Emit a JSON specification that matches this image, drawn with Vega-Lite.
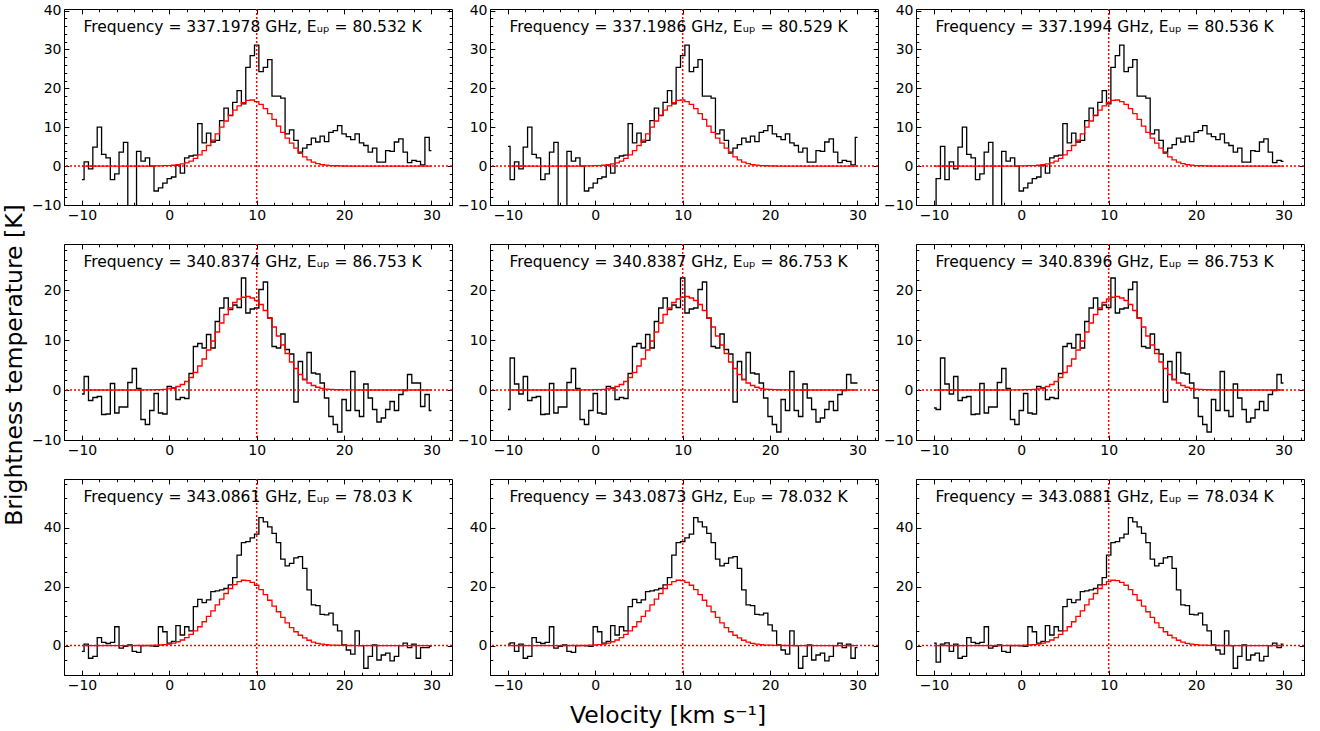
{
"$schema": "https://vega.github.io/schema/vega-lite/v6.json",
"padding": {"left": 3, "top": 3, "right": 5, "bottom": 5},
"background": "white",
"datasets": {
"r1": [
{"a":-11.5,"b":-11,"c":-10,"t":-13,"m":0},
{"a":-11,"b":-10.5,"c":-9.5,"t":-3.2,"m":0},
{"a":-10.5,"b":-10,"c":-9,"t":5.1,"m":0},
{"a":-10,"b":-9.5,"c":-8.5,"t":-3.5,"m":0},
{"a":-9.5,"b":-9,"c":-8,"t":1.1,"m":0},
{"a":-9,"b":-8.5,"c":-7.5,"t":-0.7,"m":0},
{"a":-8.5,"b":-8,"c":-7,"t":4.9,"m":0},
{"a":-8,"b":-7.5,"c":-6.5,"t":10,"m":0},
{"a":-7.5,"b":-7,"c":-6,"t":3,"m":0},
{"a":-7,"b":-6.5,"c":-5.5,"t":2.1,"m":0},
{"a":-6.5,"b":-6,"c":-5,"t":-3.5,"m":0},
{"a":-6,"b":-5.5,"c":-4.5,"t":-2,"m":0},
{"a":-5.5,"b":-5,"c":-4,"t":3.6,"m":0},
{"a":-5,"b":-4.5,"c":-3.5,"t":6.1,"m":0},
{"a":-4.5,"b":-4,"c":-3,"t":-13,"m":0},
{"a":-4,"b":-3.5,"c":-2.5,"t":-13,"m":0},
{"a":-3.5,"b":-3,"c":-2,"t":3.8,"m":0},
{"a":-3,"b":-2.5,"c":-1.5,"t":1.3,"m":0.01},
{"a":-2.5,"b":-2,"c":-1,"t":2.1,"m":0.01},
{"a":-2,"b":-1.5,"c":-0.5,"t":0,"m":0.02},
{"a":-1.5,"b":-1,"c":0,"t":-6.4,"m":0.04},
{"a":-1,"b":-0.5,"c":0.5,"t":-5.6,"m":0.06},
{"a":-0.5,"b":0,"c":1,"t":-4.4,"m":0.1},
{"a":0,"b":0.5,"c":1.5,"t":-3.2,"m":0.15},
{"a":0.5,"b":1,"c":2,"t":-2.8,"m":0.22},
{"a":1,"b":1.5,"c":2.5,"t":0.2,"m":0.35},
{"a":1.5,"b":2,"c":3,"t":-1.8,"m":0.55},
{"a":2,"b":2.5,"c":3.5,"t":2.1,"m":0.85},
{"a":2.5,"b":3,"c":4,"t":2.6,"m":1.3},
{"a":3,"b":3.5,"c":4.5,"t":2.8,"m":2},
{"a":3.5,"b":4,"c":5,"t":10.9,"m":2.9},
{"a":4,"b":4.5,"c":5.5,"t":6,"m":4},
{"a":4.5,"b":5,"c":6,"t":8.5,"m":5.3},
{"a":5,"b":5.5,"c":6.5,"t":6.2,"m":6.7},
{"a":5.5,"b":6,"c":7,"t":6.6,"m":8.3},
{"a":6,"b":6.5,"c":7.5,"t":11.7,"m":10},
{"a":6.5,"b":7,"c":8,"t":14.9,"m":11.6},
{"a":7,"b":7.5,"c":8.5,"t":13,"m":13.1},
{"a":7.5,"b":8,"c":9,"t":16.4,"m":14.4},
{"a":8,"b":8.5,"c":9.5,"t":19.4,"m":15.5},
{"a":8.5,"b":9,"c":10,"t":16,"m":16.3},
{"a":9,"b":9.5,"c":10.5,"t":25.4,"m":16.9},
{"a":9.5,"b":10,"c":11,"t":28.4,"m":17},
{"a":10,"b":10.5,"c":11.5,"t":31.1,"m":16.6},
{"a":10.5,"b":11,"c":12,"t":24.3,"m":15.9},
{"a":11,"b":11.5,"c":12.5,"t":25.4,"m":14.8},
{"a":11.5,"b":12,"c":13,"t":27.4,"m":13.5},
{"a":12,"b":12.5,"c":13.5,"t":18,"m":12},
{"a":12.5,"b":13,"c":14,"t":18,"m":10.3},
{"a":13,"b":13.5,"c":14.5,"t":17.5,"m":8.7},
{"a":13.5,"b":14,"c":15,"t":8.3,"m":7.2},
{"a":14,"b":14.5,"c":15.5,"t":9.3,"m":5.9},
{"a":14.5,"b":15,"c":16,"t":6.6,"m":4.6},
{"a":15,"b":15.5,"c":16.5,"t":3.6,"m":3.3},
{"a":15.5,"b":16,"c":17,"t":4.6,"m":2.4},
{"a":16,"b":16.5,"c":17.5,"t":5.5,"m":1.6},
{"a":16.5,"b":17,"c":18,"t":7.2,"m":1.05},
{"a":17,"b":17.5,"c":18.5,"t":6.2,"m":0.65},
{"a":17.5,"b":18,"c":19,"t":7.7,"m":0.4},
{"a":18,"b":18.5,"c":19.5,"t":6.3,"m":0.25},
{"a":18.5,"b":19,"c":20,"t":8.7,"m":0.15},
{"a":19,"b":19.5,"c":20.5,"t":9.1,"m":0.09},
{"a":19.5,"b":20,"c":21,"t":10.4,"m":0.05},
{"a":20,"b":20.5,"c":21.5,"t":8.3,"m":0.03},
{"a":20.5,"b":21,"c":22,"t":7.6,"m":0.01},
{"a":21,"b":21.5,"c":22.5,"t":6.8,"m":0},
{"a":21.5,"b":22,"c":23,"t":8.3,"m":0},
{"a":22,"b":22.5,"c":23.5,"t":6,"m":0},
{"a":22.5,"b":23,"c":24,"t":5.3,"m":0},
{"a":23,"b":23.5,"c":24.5,"t":3.6,"m":0},
{"a":23.5,"b":24,"c":25,"t":4.6,"m":0},
{"a":24,"b":24.5,"c":25.5,"t":1,"m":0},
{"a":24.5,"b":25,"c":26,"t":1,"m":0},
{"a":25,"b":25.5,"c":26.5,"t":4,"m":0},
{"a":25.5,"b":26,"c":27,"t":3.8,"m":0},
{"a":26,"b":26.5,"c":27.5,"t":6.2,"m":0},
{"a":26.5,"b":27,"c":28,"t":7,"m":0},
{"a":27,"b":27.5,"c":28.5,"t":3.6,"m":0},
{"a":27.5,"b":28,"c":29,"t":0.9,"m":0},
{"a":28,"b":28.5,"c":29.5,"t":1.5,"m":0},
{"a":28.5,"b":29,"c":30,"t":1.2,"m":0},
{"a":29,"b":29.5,"c":30.5,"t":0.3,"m":0},
{"a":29.5,"b":30,"c":31,"t":7.4,"m":0},
{"a":30,"b":30.5,"c":31.5,"t":4,"m":0}
],
"r2": [
{"a":-12,"b":-10.5,"c":-10,"t":-3.6,"m":0},
{"a":-11.5,"b":-10,"c":-9.5,"t":-3.9,"m":0},
{"a":-11,"b":-9.5,"c":-9,"t":6.4,"m":0},
{"a":-10.5,"b":-9,"c":-8.5,"t":1.2,"m":0},
{"a":-10,"b":-8.5,"c":-8,"t":-0.8,"m":0},
{"a":-9.5,"b":-8,"c":-7.5,"t":2.7,"m":0},
{"a":-9,"b":-7.5,"c":-7,"t":-2.1,"m":0},
{"a":-8.5,"b":-7,"c":-6.5,"t":-1.5,"m":0},
{"a":-8,"b":-6.5,"c":-6,"t":-1.3,"m":0},
{"a":-7.5,"b":-6,"c":-5.5,"t":-4.9,"m":0},
{"a":-7,"b":-5.5,"c":-5,"t":-4.8,"m":0},
{"a":-6.5,"b":-5,"c":-4.5,"t":1.3,"m":0},
{"a":-6,"b":-4.5,"c":-4,"t":-4.6,"m":0},
{"a":-5.5,"b":-4,"c":-3.5,"t":-3.4,"m":0},
{"a":-5,"b":-3.5,"c":-3,"t":-3.4,"m":0},
{"a":-4.5,"b":-3,"c":-2.5,"t":1.5,"m":0},
{"a":-4,"b":-2.5,"c":-2,"t":4.3,"m":0},
{"a":-3.5,"b":-2,"c":-1.5,"t":0.3,"m":0},
{"a":-3,"b":-1.5,"c":-1,"t":-5.9,"m":0.01},
{"a":-2.5,"b":-1,"c":-0.5,"t":-6.9,"m":0.02},
{"a":-2,"b":-0.5,"c":0,"t":-4.1,"m":0.04},
{"a":-1.5,"b":0,"c":0.5,"t":-0.7,"m":0.06},
{"a":-1,"b":0.5,"c":1,"t":-4.6,"m":0.09},
{"a":-0.5,"b":1,"c":1.5,"t":-4.8,"m":0.14},
{"a":0,"b":1.5,"c":2,"t":0.7,"m":0.23},
{"a":0.5,"b":2,"c":2.5,"t":0.4,"m":0.4},
{"a":1,"b":2.5,"c":3,"t":-1.9,"m":0.7},
{"a":1.5,"b":3,"c":3.5,"t":-1.5,"m":1.1},
{"a":2,"b":3.5,"c":4,"t":-1.7,"m":1.7},
{"a":2.5,"b":4,"c":4.5,"t":3.3,"m":2.5},
{"a":3,"b":4.5,"c":5,"t":8.7,"m":3.5},
{"a":3.5,"b":5,"c":5.5,"t":9.3,"m":4.8},
{"a":4,"b":5.5,"c":6,"t":8.4,"m":6.2},
{"a":4.5,"b":6,"c":6.5,"t":11.1,"m":8},
{"a":5,"b":6.5,"c":7,"t":8.4,"m":9.8},
{"a":5.5,"b":7,"c":7.5,"t":13.7,"m":11.6},
{"a":6,"b":7.5,"c":8,"t":16.4,"m":13.4},
{"a":6.5,"b":8,"c":8.5,"t":18.4,"m":15.1},
{"a":7,"b":8.5,"c":9,"t":16.1,"m":16.4},
{"a":7.5,"b":9,"c":9.5,"t":17,"m":17.5},
{"a":8,"b":9.5,"c":10,"t":16.5,"m":18.2},
{"a":8.5,"b":10,"c":10.5,"t":22.4,"m":18.55},
{"a":9,"b":10.5,"c":11,"t":15.4,"m":18.7},
{"a":9.5,"b":11,"c":11.5,"t":16.2,"m":18.4},
{"a":10,"b":11.5,"c":12,"t":16.4,"m":17.9},
{"a":10.5,"b":12,"c":12.5,"t":20.1,"m":17.1},
{"a":11,"b":12.5,"c":13,"t":21.6,"m":15.9},
{"a":11.5,"b":13,"c":13.5,"t":14.4,"m":14.4},
{"a":12,"b":13.5,"c":14,"t":8.7,"m":12.6},
{"a":12.5,"b":14,"c":14.5,"t":8.4,"m":10.8},
{"a":13,"b":14.5,"c":15,"t":11.2,"m":9},
{"a":13.5,"b":15,"c":15.5,"t":8.1,"m":7.3},
{"a":14,"b":15.5,"c":16,"t":7.2,"m":5.6},
{"a":14.5,"b":16,"c":16.5,"t":-2.4,"m":4.3},
{"a":15,"b":16.5,"c":17,"t":5.7,"m":3.1},
{"a":15.5,"b":17,"c":17.5,"t":2.1,"m":2.1},
{"a":16,"b":17.5,"c":18,"t":7.5,"m":1.4},
{"a":16.5,"b":18,"c":18.5,"t":3.4,"m":0.9},
{"a":17,"b":18.5,"c":19,"t":3.2,"m":0.55},
{"a":17.5,"b":19,"c":19.5,"t":1.4,"m":0.32},
{"a":18,"b":19.5,"c":20,"t":-1.6,"m":0.19},
{"a":18.5,"b":20,"c":20.5,"t":-5.3,"m":0.12},
{"a":19,"b":20.5,"c":21,"t":-6.9,"m":0.07},
{"a":19.5,"b":21,"c":21.5,"t":-8.4,"m":0.05},
{"a":20,"b":21.5,"c":22,"t":-1.9,"m":0.03},
{"a":20.5,"b":22,"c":22.5,"t":-4.1,"m":0.02},
{"a":21,"b":22.5,"c":23,"t":3.7,"m":0.01},
{"a":21.5,"b":23,"c":23.5,"t":-4.1,"m":0},
{"a":22,"b":23.5,"c":24,"t":-5.3,"m":0},
{"a":22.5,"b":24,"c":24.5,"t":1.2,"m":0},
{"a":23,"b":24.5,"c":25,"t":-1.6,"m":0},
{"a":23.5,"b":25,"c":25.5,"t":-3.9,"m":0},
{"a":24,"b":25.5,"c":26,"t":-6.4,"m":0},
{"a":24.5,"b":26,"c":26.5,"t":-5.6,"m":0},
{"a":25,"b":26.5,"c":27,"t":-3.9,"m":0},
{"a":25.5,"b":27,"c":27.5,"t":-2.3,"m":0},
{"a":26,"b":27.5,"c":28,"t":-4.1,"m":0},
{"a":26.5,"b":28,"c":28.5,"t":-0.9,"m":0},
{"a":27,"b":28.5,"c":29,"t":-0.1,"m":0},
{"a":27.5,"b":29,"c":29.5,"t":3.1,"m":0},
{"a":28,"b":29.5,"c":30,"t":1.4,"m":0},
{"a":28.5,"b":30,"c":30.5,"t":1.4,"m":0},
{"a":29,"b":30.5,"c":31,"t":-3.3,"m":0},
{"a":29.5,"b":31,"c":31.5,"t":-0.9,"m":0},
{"a":30,"b":31.5,"c":32,"t":-4.1,"m":0}
],
"r3": [
{"a":-12,"b":-11,"c":-10,"t":0.8,"m":0},
{"a":-11.5,"b":-10.5,"c":-9.5,"t":-5.6,"m":0},
{"a":-11,"b":-10,"c":-9,"t":0.5,"m":0},
{"a":-10.5,"b":-9.5,"c":-8.5,"t":0.9,"m":0},
{"a":-10,"b":-9,"c":-8,"t":-2,"m":0},
{"a":-9.5,"b":-8.5,"c":-7.5,"t":0.5,"m":0},
{"a":-9,"b":-8,"c":-7,"t":-4.3,"m":0},
{"a":-8.5,"b":-7.5,"c":-6.5,"t":-3.7,"m":0},
{"a":-8,"b":-7,"c":-6,"t":2.7,"m":0},
{"a":-7.5,"b":-6.5,"c":-5.5,"t":1.1,"m":0},
{"a":-7,"b":-6,"c":-5,"t":0.7,"m":0},
{"a":-6.5,"b":-5.5,"c":-4.5,"t":1.1,"m":0},
{"a":-6,"b":-5,"c":-4,"t":6.4,"m":0},
{"a":-5.5,"b":-4.5,"c":-3.5,"t":-0.9,"m":0},
{"a":-5,"b":-4,"c":-3,"t":-0.3,"m":0},
{"a":-4.5,"b":-3.5,"c":-2.5,"t":0.2,"m":0},
{"a":-4,"b":-3,"c":-2,"t":-2,"m":0.01},
{"a":-3.5,"b":-2.5,"c":-1.5,"t":-2.3,"m":0.02},
{"a":-3,"b":-2,"c":-1,"t":0,"m":0.03},
{"a":-2.5,"b":-1.5,"c":-0.5,"t":0,"m":0.05},
{"a":-2,"b":-1,"c":0,"t":-0.1,"m":0.08},
{"a":-1.5,"b":-0.5,"c":0.5,"t":-0.3,"m":0.13},
{"a":-1,"b":0,"c":1,"t":6.4,"m":0.2},
{"a":-0.5,"b":0.5,"c":1.5,"t":4.7,"m":0.34},
{"a":0,"b":1,"c":2,"t":0.8,"m":0.5},
{"a":0.5,"b":1.5,"c":2.5,"t":1.4,"m":0.85},
{"a":1,"b":2,"c":3,"t":6.8,"m":1.3},
{"a":1.5,"b":2.5,"c":3.5,"t":3.6,"m":1.9},
{"a":2,"b":3,"c":4,"t":6.4,"m":2.7},
{"a":2.5,"b":3.5,"c":4.5,"t":5,"m":3.8},
{"a":3,"b":4,"c":5,"t":13.2,"m":5},
{"a":3.5,"b":4.5,"c":5.5,"t":15.7,"m":6.4},
{"a":4,"b":5,"c":6,"t":14.6,"m":8.1},
{"a":4.5,"b":5.5,"c":6.5,"t":15.5,"m":9.9},
{"a":5,"b":6,"c":7,"t":18.3,"m":11.8},
{"a":5.5,"b":6.5,"c":7.5,"t":18.6,"m":13.8},
{"a":6,"b":7,"c":8,"t":18.9,"m":15.8},
{"a":6.5,"b":7.5,"c":8.5,"t":19.4,"m":17.7},
{"a":7,"b":8,"c":9,"t":20.6,"m":19.4},
{"a":7.5,"b":8.5,"c":9.5,"t":23.1,"m":20.7},
{"a":8,"b":9,"c":10,"t":30.7,"m":21.7},
{"a":8.5,"b":9.5,"c":10.5,"t":35,"m":22.2},
{"a":9,"b":10,"c":11,"t":35.3,"m":22.1},
{"a":9.5,"b":10.5,"c":11.5,"t":36.6,"m":21.5},
{"a":10,"b":11,"c":12,"t":37.9,"m":20.5},
{"a":10.5,"b":11.5,"c":12.5,"t":43.5,"m":19},
{"a":11,"b":12,"c":13,"t":42,"m":17.3},
{"a":11.5,"b":12.5,"c":13.5,"t":40.3,"m":15.4},
{"a":12,"b":13,"c":14,"t":38.1,"m":13.4},
{"a":12.5,"b":13.5,"c":14.5,"t":35,"m":11.5},
{"a":13,"b":14,"c":15,"t":29.4,"m":9.6},
{"a":13.5,"b":14.5,"c":15.5,"t":27.1,"m":7.7},
{"a":14,"b":15,"c":16,"t":27.9,"m":6.1},
{"a":14.5,"b":15.5,"c":16.5,"t":29.8,"m":4.7},
{"a":15,"b":16,"c":17,"t":30.2,"m":3.5},
{"a":15.5,"b":16.5,"c":17.5,"t":26.2,"m":2.6},
{"a":16,"b":17,"c":18,"t":18.9,"m":1.8},
{"a":16.5,"b":17.5,"c":18.5,"t":13.8,"m":1.2},
{"a":17,"b":18,"c":19,"t":13.6,"m":0.75},
{"a":17.5,"b":18.5,"c":19.5,"t":10.6,"m":0.48},
{"a":18,"b":19,"c":20,"t":10.4,"m":0.31},
{"a":18.5,"b":19.5,"c":20.5,"t":11,"m":0.18},
{"a":19,"b":20,"c":21,"t":7,"m":0.12},
{"a":19.5,"b":20.5,"c":21.5,"t":5,"m":0.07},
{"a":20,"b":21,"c":22,"t":0.2,"m":0.04},
{"a":20.5,"b":21.5,"c":22.5,"t":-1.5,"m":0.03},
{"a":21,"b":22,"c":23,"t":-2.9,"m":0.02},
{"a":21.5,"b":22.5,"c":23.5,"t":5,"m":0.01},
{"a":22,"b":23,"c":24,"t":0,"m":0},
{"a":22.5,"b":23.5,"c":24.5,"t":-7.7,"m":0},
{"a":23,"b":24,"c":25,"t":-3.7,"m":0},
{"a":23.5,"b":24.5,"c":25.5,"t":0.2,"m":0},
{"a":24,"b":25,"c":26,"t":-4.9,"m":0},
{"a":24.5,"b":25.5,"c":26.5,"t":-3.2,"m":0},
{"a":25,"b":26,"c":27,"t":-2.6,"m":0},
{"a":25.5,"b":26.5,"c":27.5,"t":-5.2,"m":0},
{"a":26,"b":27,"c":28,"t":-3.7,"m":0},
{"a":26.5,"b":27.5,"c":28.5,"t":0,"m":0},
{"a":27,"b":28,"c":29,"t":0.8,"m":0},
{"a":27.5,"b":28.5,"c":29.5,"t":-0.7,"m":0},
{"a":28,"b":29,"c":30,"t":0.5,"m":0},
{"a":28.5,"b":29.5,"c":30.5,"t":-4.3,"m":0},
{"a":29,"b":30,"c":31,"t":-0.7,"m":0},
{"a":29.5,"b":30.5,"c":31.5,"t":-0.7,"m":0},
{"a":30,"b":31,"c":32,"t":-0.3,"m":0}
]
},
"title": {"text": "Brightness temperature [K]", "orient": "left", "anchor": "middle", "offset": 4},
"vconcat": [
{
"title": {"text": "Velocity [km s⁻¹]", "orient": "bottom", "anchor": "middle", "offset": 11},
"columns": 3,
"spacing": {"row": 39, "column": 38},
"bounds": "flush",
"concat": [
{"width": 388, "height": 196, "resolve": {"axis": {"x": "independent", "y": "independent"}}, "layer": [
{"data": {"name": "r1"}, "transform": [{"filter": "datum.a >= -10 && datum.a <= 30"}], "mark": {"type": "line", "interpolate": "step", "color": "black", "strokeWidth": 1.3, "clip": true}, "encoding": {"x": {"field": "a", "type": "quantitative", "scale": {"domain": [-12.05, 32.35], "nice": false, "zero": false}, "axis": {"orient": "bottom", "values": [-10,0,10,20,30], "ticks": false, "tickSize": 0, "labelPadding": 3, "title": null}}, "y": {"field": "t", "type": "quantitative", "scale": {"domain": [-10, 40.4], "nice": false, "zero": false}, "axis": {"orient": "left", "values": [-10,0,10,20,30,40], "ticks": false, "tickSize": 0, "labelPadding": 3, "title": null}}}},
{"data": {"name": "r1"}, "transform": [{"filter": "datum.a >= -10 && datum.a <= 30"}], "mark": {"type": "line", "interpolate": "step", "color": "#ff0000", "strokeWidth": 1.3, "clip": true}, "encoding": {"x": {"field": "a", "type": "quantitative", "scale": {"domain": [-12.05, 32.35], "nice": false, "zero": false}, "axis": {"orient": "bottom", "values": [-10,0,10,20,30], "labels": false, "tickSize": -4.9, "title": null}}, "y": {"field": "m", "type": "quantitative", "scale": {"domain": [-10, 40.4], "nice": false, "zero": false}, "axis": {"orient": "left", "values": [-10,0,10,20,30,40], "labels": false, "tickSize": -4.9, "title": null}}}},
{"data": {"values": [{}]}, "mark": {"type": "rule", "color": "#ff0000", "strokeDash": [2,2], "strokeWidth": 1.5}, "encoding": {"y": {"datum": 0, "type": "quantitative", "scale": {"domain": [-10, 40.4], "nice": false, "zero": false}, "axis": {"orient": "left", "values": [-10,-8,-6,-4,-2,0,2,4,6,8,10,12,14,16,18,20,22,24,26,28,30,32,34,36,38,40], "labels": false, "tickSize": -2.8, "title": null}}}},
{"data": {"values": [{}]}, "mark": {"type": "rule", "color": "#ff0000", "strokeDash": [2,2], "strokeWidth": 1.5}, "encoding": {"x": {"datum": 10, "type": "quantitative", "scale": {"domain": [-12.05, 32.35], "nice": false, "zero": false}, "axis": {"orient": "bottom", "values": [-12,-10,-8,-6,-4,-2,0,2,4,6,8,10,12,14,16,18,20,22,24,26,28,30,32], "labels": false, "tickSize": -2.8, "title": null}}}},
{"data": {"values": [{}]}, "mark": {"type": "text", "align": "left", "baseline": "alphabetic", "font": "DejaVu Sans", "fontSize": 15.5, "color": "black"}, "encoding": {"x": {"datum": -9.83, "type": "quantitative", "scale": {"domain": [-12.05, 32.35], "nice": false, "zero": false}, "axis": {"orient": "top", "values": [-10,0,10,20,30], "labels": false, "tickSize": -4.9, "title": null}}, "y": {"datum": 34.5, "type": "quantitative", "scale": {"domain": [-10, 40.4], "nice": false, "zero": false}, "axis": {"orient": "right", "values": [-10,0,10,20,30,40], "labels": false, "tickSize": -4.9, "title": null}}, "text": {"value": "Frequency = 337.1978 GHz, Eᵤₚ = 80.532 K"}}},
{"data": {"values": [{}]}, "mark": {"type": "point", "opacity": 0}, "encoding": {"x": {"datum": 0, "type": "quantitative", "scale": {"domain": [-12.05, 32.35], "nice": false, "zero": false}, "axis": {"orient": "top", "values": [-12,-10,-8,-6,-4,-2,0,2,4,6,8,10,12,14,16,18,20,22,24,26,28,30,32], "labels": false, "tickSize": -2.8, "title": null}}, "y": {"datum": 0, "type": "quantitative", "scale": {"domain": [-10, 40.4], "nice": false, "zero": false}, "axis": {"orient": "right", "values": [-10,-8,-6,-4,-2,0,2,4,6,8,10,12,14,16,18,20,22,24,26,28,30,32,34,36,38,40], "labels": false, "tickSize": -2.8, "title": null}}}}
]},
{"width": 388, "height": 196, "resolve": {"axis": {"x": "independent", "y": "independent"}}, "layer": [
{"data": {"name": "r1"}, "transform": [{"filter": "datum.b >= -10 && datum.b <= 30"}], "mark": {"type": "line", "interpolate": "step", "color": "black", "strokeWidth": 1.3, "clip": true}, "encoding": {"x": {"field": "b", "type": "quantitative", "scale": {"domain": [-12.05, 32.35], "nice": false, "zero": false}, "axis": {"orient": "bottom", "values": [-10,0,10,20,30], "ticks": false, "tickSize": 0, "labelPadding": 3, "title": null}}, "y": {"field": "t", "type": "quantitative", "scale": {"domain": [-10, 40.4], "nice": false, "zero": false}, "axis": {"orient": "left", "values": [-10,0,10,20,30,40], "ticks": false, "tickSize": 0, "labelPadding": 3, "title": null}}}},
{"data": {"name": "r1"}, "transform": [{"filter": "datum.b >= -10 && datum.b <= 30"}], "mark": {"type": "line", "interpolate": "step", "color": "#ff0000", "strokeWidth": 1.3, "clip": true}, "encoding": {"x": {"field": "b", "type": "quantitative", "scale": {"domain": [-12.05, 32.35], "nice": false, "zero": false}, "axis": {"orient": "bottom", "values": [-10,0,10,20,30], "labels": false, "tickSize": -4.9, "title": null}}, "y": {"field": "m", "type": "quantitative", "scale": {"domain": [-10, 40.4], "nice": false, "zero": false}, "axis": {"orient": "left", "values": [-10,0,10,20,30,40], "labels": false, "tickSize": -4.9, "title": null}}}},
{"data": {"values": [{}]}, "mark": {"type": "rule", "color": "#ff0000", "strokeDash": [2,2], "strokeWidth": 1.5}, "encoding": {"y": {"datum": 0, "type": "quantitative", "scale": {"domain": [-10, 40.4], "nice": false, "zero": false}, "axis": {"orient": "left", "values": [-10,-8,-6,-4,-2,0,2,4,6,8,10,12,14,16,18,20,22,24,26,28,30,32,34,36,38,40], "labels": false, "tickSize": -2.8, "title": null}}}},
{"data": {"values": [{}]}, "mark": {"type": "rule", "color": "#ff0000", "strokeDash": [2,2], "strokeWidth": 1.5}, "encoding": {"x": {"datum": 10, "type": "quantitative", "scale": {"domain": [-12.05, 32.35], "nice": false, "zero": false}, "axis": {"orient": "bottom", "values": [-12,-10,-8,-6,-4,-2,0,2,4,6,8,10,12,14,16,18,20,22,24,26,28,30,32], "labels": false, "tickSize": -2.8, "title": null}}}},
{"data": {"values": [{}]}, "mark": {"type": "text", "align": "left", "baseline": "alphabetic", "font": "DejaVu Sans", "fontSize": 15.5, "color": "black"}, "encoding": {"x": {"datum": -9.83, "type": "quantitative", "scale": {"domain": [-12.05, 32.35], "nice": false, "zero": false}, "axis": {"orient": "top", "values": [-10,0,10,20,30], "labels": false, "tickSize": -4.9, "title": null}}, "y": {"datum": 34.5, "type": "quantitative", "scale": {"domain": [-10, 40.4], "nice": false, "zero": false}, "axis": {"orient": "right", "values": [-10,0,10,20,30,40], "labels": false, "tickSize": -4.9, "title": null}}, "text": {"value": "Frequency = 337.1986 GHz, Eᵤₚ = 80.529 K"}}},
{"data": {"values": [{}]}, "mark": {"type": "point", "opacity": 0}, "encoding": {"x": {"datum": 0, "type": "quantitative", "scale": {"domain": [-12.05, 32.35], "nice": false, "zero": false}, "axis": {"orient": "top", "values": [-12,-10,-8,-6,-4,-2,0,2,4,6,8,10,12,14,16,18,20,22,24,26,28,30,32], "labels": false, "tickSize": -2.8, "title": null}}, "y": {"datum": 0, "type": "quantitative", "scale": {"domain": [-10, 40.4], "nice": false, "zero": false}, "axis": {"orient": "right", "values": [-10,-8,-6,-4,-2,0,2,4,6,8,10,12,14,16,18,20,22,24,26,28,30,32,34,36,38,40], "labels": false, "tickSize": -2.8, "title": null}}}}
]},
{"width": 388, "height": 196, "resolve": {"axis": {"x": "independent", "y": "independent"}}, "layer": [
{"data": {"name": "r1"}, "transform": [{"filter": "datum.c >= -10 && datum.c <= 30"}], "mark": {"type": "line", "interpolate": "step", "color": "black", "strokeWidth": 1.3, "clip": true}, "encoding": {"x": {"field": "c", "type": "quantitative", "scale": {"domain": [-12.05, 32.35], "nice": false, "zero": false}, "axis": {"orient": "bottom", "values": [-10,0,10,20,30], "ticks": false, "tickSize": 0, "labelPadding": 3, "title": null}}, "y": {"field": "t", "type": "quantitative", "scale": {"domain": [-10, 40.4], "nice": false, "zero": false}, "axis": {"orient": "left", "values": [-10,0,10,20,30,40], "ticks": false, "tickSize": 0, "labelPadding": 3, "title": null}}}},
{"data": {"name": "r1"}, "transform": [{"filter": "datum.c >= -10 && datum.c <= 30"}], "mark": {"type": "line", "interpolate": "step", "color": "#ff0000", "strokeWidth": 1.3, "clip": true}, "encoding": {"x": {"field": "c", "type": "quantitative", "scale": {"domain": [-12.05, 32.35], "nice": false, "zero": false}, "axis": {"orient": "bottom", "values": [-10,0,10,20,30], "labels": false, "tickSize": -4.9, "title": null}}, "y": {"field": "m", "type": "quantitative", "scale": {"domain": [-10, 40.4], "nice": false, "zero": false}, "axis": {"orient": "left", "values": [-10,0,10,20,30,40], "labels": false, "tickSize": -4.9, "title": null}}}},
{"data": {"values": [{}]}, "mark": {"type": "rule", "color": "#ff0000", "strokeDash": [2,2], "strokeWidth": 1.5}, "encoding": {"y": {"datum": 0, "type": "quantitative", "scale": {"domain": [-10, 40.4], "nice": false, "zero": false}, "axis": {"orient": "left", "values": [-10,-8,-6,-4,-2,0,2,4,6,8,10,12,14,16,18,20,22,24,26,28,30,32,34,36,38,40], "labels": false, "tickSize": -2.8, "title": null}}}},
{"data": {"values": [{}]}, "mark": {"type": "rule", "color": "#ff0000", "strokeDash": [2,2], "strokeWidth": 1.5}, "encoding": {"x": {"datum": 10, "type": "quantitative", "scale": {"domain": [-12.05, 32.35], "nice": false, "zero": false}, "axis": {"orient": "bottom", "values": [-12,-10,-8,-6,-4,-2,0,2,4,6,8,10,12,14,16,18,20,22,24,26,28,30,32], "labels": false, "tickSize": -2.8, "title": null}}}},
{"data": {"values": [{}]}, "mark": {"type": "text", "align": "left", "baseline": "alphabetic", "font": "DejaVu Sans", "fontSize": 15.5, "color": "black"}, "encoding": {"x": {"datum": -9.83, "type": "quantitative", "scale": {"domain": [-12.05, 32.35], "nice": false, "zero": false}, "axis": {"orient": "top", "values": [-10,0,10,20,30], "labels": false, "tickSize": -4.9, "title": null}}, "y": {"datum": 34.5, "type": "quantitative", "scale": {"domain": [-10, 40.4], "nice": false, "zero": false}, "axis": {"orient": "right", "values": [-10,0,10,20,30,40], "labels": false, "tickSize": -4.9, "title": null}}, "text": {"value": "Frequency = 337.1994 GHz, Eᵤₚ = 80.536 K"}}},
{"data": {"values": [{}]}, "mark": {"type": "point", "opacity": 0}, "encoding": {"x": {"datum": 0, "type": "quantitative", "scale": {"domain": [-12.05, 32.35], "nice": false, "zero": false}, "axis": {"orient": "top", "values": [-12,-10,-8,-6,-4,-2,0,2,4,6,8,10,12,14,16,18,20,22,24,26,28,30,32], "labels": false, "tickSize": -2.8, "title": null}}, "y": {"datum": 0, "type": "quantitative", "scale": {"domain": [-10, 40.4], "nice": false, "zero": false}, "axis": {"orient": "right", "values": [-10,-8,-6,-4,-2,0,2,4,6,8,10,12,14,16,18,20,22,24,26,28,30,32,34,36,38,40], "labels": false, "tickSize": -2.8, "title": null}}}}
]},
{"width": 388, "height": 196, "resolve": {"axis": {"x": "independent", "y": "independent"}}, "layer": [
{"data": {"name": "r2"}, "transform": [{"filter": "datum.a >= -10 && datum.a <= 30"}], "mark": {"type": "line", "interpolate": "step", "color": "black", "strokeWidth": 1.3, "clip": true}, "encoding": {"x": {"field": "a", "type": "quantitative", "scale": {"domain": [-12.05, 32.35], "nice": false, "zero": false}, "axis": {"orient": "bottom", "values": [-10,0,10,20,30], "ticks": false, "tickSize": 0, "labelPadding": 3, "title": null}}, "y": {"field": "t", "type": "quantitative", "scale": {"domain": [-10, 29.2], "nice": false, "zero": false}, "axis": {"orient": "left", "values": [-10,0,10,20], "ticks": false, "tickSize": 0, "labelPadding": 3, "title": null}}}},
{"data": {"name": "r2"}, "transform": [{"filter": "datum.a >= -10 && datum.a <= 30"}], "mark": {"type": "line", "interpolate": "step", "color": "#ff0000", "strokeWidth": 1.3, "clip": true}, "encoding": {"x": {"field": "a", "type": "quantitative", "scale": {"domain": [-12.05, 32.35], "nice": false, "zero": false}, "axis": {"orient": "bottom", "values": [-10,0,10,20,30], "labels": false, "tickSize": -4.9, "title": null}}, "y": {"field": "m", "type": "quantitative", "scale": {"domain": [-10, 29.2], "nice": false, "zero": false}, "axis": {"orient": "left", "values": [-10,0,10,20], "labels": false, "tickSize": -4.9, "title": null}}}},
{"data": {"values": [{}]}, "mark": {"type": "rule", "color": "#ff0000", "strokeDash": [2,2], "strokeWidth": 1.5}, "encoding": {"y": {"datum": 0, "type": "quantitative", "scale": {"domain": [-10, 29.2], "nice": false, "zero": false}, "axis": {"orient": "left", "values": [-10,-8,-6,-4,-2,0,2,4,6,8,10,12,14,16,18,20,22,24,26,28], "labels": false, "tickSize": -2.8, "title": null}}}},
{"data": {"values": [{}]}, "mark": {"type": "rule", "color": "#ff0000", "strokeDash": [2,2], "strokeWidth": 1.5}, "encoding": {"x": {"datum": 10, "type": "quantitative", "scale": {"domain": [-12.05, 32.35], "nice": false, "zero": false}, "axis": {"orient": "bottom", "values": [-12,-10,-8,-6,-4,-2,0,2,4,6,8,10,12,14,16,18,20,22,24,26,28,30,32], "labels": false, "tickSize": -2.8, "title": null}}}},
{"data": {"values": [{}]}, "mark": {"type": "text", "align": "left", "baseline": "alphabetic", "font": "DejaVu Sans", "fontSize": 15.5, "color": "black"}, "encoding": {"x": {"datum": -9.83, "type": "quantitative", "scale": {"domain": [-12.05, 32.35], "nice": false, "zero": false}, "axis": {"orient": "top", "values": [-10,0,10,20,30], "labels": false, "tickSize": -4.9, "title": null}}, "y": {"datum": 24.6, "type": "quantitative", "scale": {"domain": [-10, 29.2], "nice": false, "zero": false}, "axis": {"orient": "right", "values": [-10,0,10,20], "labels": false, "tickSize": -4.9, "title": null}}, "text": {"value": "Frequency = 340.8374 GHz, Eᵤₚ = 86.753 K"}}},
{"data": {"values": [{}]}, "mark": {"type": "point", "opacity": 0}, "encoding": {"x": {"datum": 0, "type": "quantitative", "scale": {"domain": [-12.05, 32.35], "nice": false, "zero": false}, "axis": {"orient": "top", "values": [-12,-10,-8,-6,-4,-2,0,2,4,6,8,10,12,14,16,18,20,22,24,26,28,30,32], "labels": false, "tickSize": -2.8, "title": null}}, "y": {"datum": 0, "type": "quantitative", "scale": {"domain": [-10, 29.2], "nice": false, "zero": false}, "axis": {"orient": "right", "values": [-10,-8,-6,-4,-2,0,2,4,6,8,10,12,14,16,18,20,22,24,26,28], "labels": false, "tickSize": -2.8, "title": null}}}}
]},
{"width": 388, "height": 196, "resolve": {"axis": {"x": "independent", "y": "independent"}}, "layer": [
{"data": {"name": "r2"}, "transform": [{"filter": "datum.b >= -10 && datum.b <= 30"}], "mark": {"type": "line", "interpolate": "step", "color": "black", "strokeWidth": 1.3, "clip": true}, "encoding": {"x": {"field": "b", "type": "quantitative", "scale": {"domain": [-12.05, 32.35], "nice": false, "zero": false}, "axis": {"orient": "bottom", "values": [-10,0,10,20,30], "ticks": false, "tickSize": 0, "labelPadding": 3, "title": null}}, "y": {"field": "t", "type": "quantitative", "scale": {"domain": [-10, 29.2], "nice": false, "zero": false}, "axis": {"orient": "left", "values": [-10,0,10,20], "ticks": false, "tickSize": 0, "labelPadding": 3, "title": null}}}},
{"data": {"name": "r2"}, "transform": [{"filter": "datum.b >= -10 && datum.b <= 30"}], "mark": {"type": "line", "interpolate": "step", "color": "#ff0000", "strokeWidth": 1.3, "clip": true}, "encoding": {"x": {"field": "b", "type": "quantitative", "scale": {"domain": [-12.05, 32.35], "nice": false, "zero": false}, "axis": {"orient": "bottom", "values": [-10,0,10,20,30], "labels": false, "tickSize": -4.9, "title": null}}, "y": {"field": "m", "type": "quantitative", "scale": {"domain": [-10, 29.2], "nice": false, "zero": false}, "axis": {"orient": "left", "values": [-10,0,10,20], "labels": false, "tickSize": -4.9, "title": null}}}},
{"data": {"values": [{}]}, "mark": {"type": "rule", "color": "#ff0000", "strokeDash": [2,2], "strokeWidth": 1.5}, "encoding": {"y": {"datum": 0, "type": "quantitative", "scale": {"domain": [-10, 29.2], "nice": false, "zero": false}, "axis": {"orient": "left", "values": [-10,-8,-6,-4,-2,0,2,4,6,8,10,12,14,16,18,20,22,24,26,28], "labels": false, "tickSize": -2.8, "title": null}}}},
{"data": {"values": [{}]}, "mark": {"type": "rule", "color": "#ff0000", "strokeDash": [2,2], "strokeWidth": 1.5}, "encoding": {"x": {"datum": 10, "type": "quantitative", "scale": {"domain": [-12.05, 32.35], "nice": false, "zero": false}, "axis": {"orient": "bottom", "values": [-12,-10,-8,-6,-4,-2,0,2,4,6,8,10,12,14,16,18,20,22,24,26,28,30,32], "labels": false, "tickSize": -2.8, "title": null}}}},
{"data": {"values": [{}]}, "mark": {"type": "text", "align": "left", "baseline": "alphabetic", "font": "DejaVu Sans", "fontSize": 15.5, "color": "black"}, "encoding": {"x": {"datum": -9.83, "type": "quantitative", "scale": {"domain": [-12.05, 32.35], "nice": false, "zero": false}, "axis": {"orient": "top", "values": [-10,0,10,20,30], "labels": false, "tickSize": -4.9, "title": null}}, "y": {"datum": 24.6, "type": "quantitative", "scale": {"domain": [-10, 29.2], "nice": false, "zero": false}, "axis": {"orient": "right", "values": [-10,0,10,20], "labels": false, "tickSize": -4.9, "title": null}}, "text": {"value": "Frequency = 340.8387 GHz, Eᵤₚ = 86.753 K"}}},
{"data": {"values": [{}]}, "mark": {"type": "point", "opacity": 0}, "encoding": {"x": {"datum": 0, "type": "quantitative", "scale": {"domain": [-12.05, 32.35], "nice": false, "zero": false}, "axis": {"orient": "top", "values": [-12,-10,-8,-6,-4,-2,0,2,4,6,8,10,12,14,16,18,20,22,24,26,28,30,32], "labels": false, "tickSize": -2.8, "title": null}}, "y": {"datum": 0, "type": "quantitative", "scale": {"domain": [-10, 29.2], "nice": false, "zero": false}, "axis": {"orient": "right", "values": [-10,-8,-6,-4,-2,0,2,4,6,8,10,12,14,16,18,20,22,24,26,28], "labels": false, "tickSize": -2.8, "title": null}}}}
]},
{"width": 388, "height": 196, "resolve": {"axis": {"x": "independent", "y": "independent"}}, "layer": [
{"data": {"name": "r2"}, "transform": [{"filter": "datum.c >= -10 && datum.c <= 30"}], "mark": {"type": "line", "interpolate": "step", "color": "black", "strokeWidth": 1.3, "clip": true}, "encoding": {"x": {"field": "c", "type": "quantitative", "scale": {"domain": [-12.05, 32.35], "nice": false, "zero": false}, "axis": {"orient": "bottom", "values": [-10,0,10,20,30], "ticks": false, "tickSize": 0, "labelPadding": 3, "title": null}}, "y": {"field": "t", "type": "quantitative", "scale": {"domain": [-10, 29.2], "nice": false, "zero": false}, "axis": {"orient": "left", "values": [-10,0,10,20], "ticks": false, "tickSize": 0, "labelPadding": 3, "title": null}}}},
{"data": {"name": "r2"}, "transform": [{"filter": "datum.c >= -10 && datum.c <= 30"}], "mark": {"type": "line", "interpolate": "step", "color": "#ff0000", "strokeWidth": 1.3, "clip": true}, "encoding": {"x": {"field": "c", "type": "quantitative", "scale": {"domain": [-12.05, 32.35], "nice": false, "zero": false}, "axis": {"orient": "bottom", "values": [-10,0,10,20,30], "labels": false, "tickSize": -4.9, "title": null}}, "y": {"field": "m", "type": "quantitative", "scale": {"domain": [-10, 29.2], "nice": false, "zero": false}, "axis": {"orient": "left", "values": [-10,0,10,20], "labels": false, "tickSize": -4.9, "title": null}}}},
{"data": {"values": [{}]}, "mark": {"type": "rule", "color": "#ff0000", "strokeDash": [2,2], "strokeWidth": 1.5}, "encoding": {"y": {"datum": 0, "type": "quantitative", "scale": {"domain": [-10, 29.2], "nice": false, "zero": false}, "axis": {"orient": "left", "values": [-10,-8,-6,-4,-2,0,2,4,6,8,10,12,14,16,18,20,22,24,26,28], "labels": false, "tickSize": -2.8, "title": null}}}},
{"data": {"values": [{}]}, "mark": {"type": "rule", "color": "#ff0000", "strokeDash": [2,2], "strokeWidth": 1.5}, "encoding": {"x": {"datum": 10, "type": "quantitative", "scale": {"domain": [-12.05, 32.35], "nice": false, "zero": false}, "axis": {"orient": "bottom", "values": [-12,-10,-8,-6,-4,-2,0,2,4,6,8,10,12,14,16,18,20,22,24,26,28,30,32], "labels": false, "tickSize": -2.8, "title": null}}}},
{"data": {"values": [{}]}, "mark": {"type": "text", "align": "left", "baseline": "alphabetic", "font": "DejaVu Sans", "fontSize": 15.5, "color": "black"}, "encoding": {"x": {"datum": -9.83, "type": "quantitative", "scale": {"domain": [-12.05, 32.35], "nice": false, "zero": false}, "axis": {"orient": "top", "values": [-10,0,10,20,30], "labels": false, "tickSize": -4.9, "title": null}}, "y": {"datum": 24.6, "type": "quantitative", "scale": {"domain": [-10, 29.2], "nice": false, "zero": false}, "axis": {"orient": "right", "values": [-10,0,10,20], "labels": false, "tickSize": -4.9, "title": null}}, "text": {"value": "Frequency = 340.8396 GHz, Eᵤₚ = 86.753 K"}}},
{"data": {"values": [{}]}, "mark": {"type": "point", "opacity": 0}, "encoding": {"x": {"datum": 0, "type": "quantitative", "scale": {"domain": [-12.05, 32.35], "nice": false, "zero": false}, "axis": {"orient": "top", "values": [-12,-10,-8,-6,-4,-2,0,2,4,6,8,10,12,14,16,18,20,22,24,26,28,30,32], "labels": false, "tickSize": -2.8, "title": null}}, "y": {"datum": 0, "type": "quantitative", "scale": {"domain": [-10, 29.2], "nice": false, "zero": false}, "axis": {"orient": "right", "values": [-10,-8,-6,-4,-2,0,2,4,6,8,10,12,14,16,18,20,22,24,26,28], "labels": false, "tickSize": -2.8, "title": null}}}}
]},
{"width": 388, "height": 196, "resolve": {"axis": {"x": "independent", "y": "independent"}}, "layer": [
{"data": {"name": "r3"}, "transform": [{"filter": "datum.a >= -10 && datum.a <= 30"}], "mark": {"type": "line", "interpolate": "step", "color": "black", "strokeWidth": 1.3, "clip": true}, "encoding": {"x": {"field": "a", "type": "quantitative", "scale": {"domain": [-12.05, 32.35], "nice": false, "zero": false}, "axis": {"orient": "bottom", "values": [-10,0,10,20,30], "ticks": false, "tickSize": 0, "labelPadding": 3, "title": null}}, "y": {"field": "t", "type": "quantitative", "scale": {"domain": [-10, 56.6], "nice": false, "zero": false}, "axis": {"orient": "left", "values": [0,20,40], "ticks": false, "tickSize": 0, "labelPadding": 3, "title": null}}}},
{"data": {"name": "r3"}, "transform": [{"filter": "datum.a >= -10 && datum.a <= 30"}], "mark": {"type": "line", "interpolate": "step", "color": "#ff0000", "strokeWidth": 1.3, "clip": true}, "encoding": {"x": {"field": "a", "type": "quantitative", "scale": {"domain": [-12.05, 32.35], "nice": false, "zero": false}, "axis": {"orient": "bottom", "values": [-10,0,10,20,30], "labels": false, "tickSize": -4.9, "title": null}}, "y": {"field": "m", "type": "quantitative", "scale": {"domain": [-10, 56.6], "nice": false, "zero": false}, "axis": {"orient": "left", "values": [0,20,40], "labels": false, "tickSize": -4.9, "title": null}}}},
{"data": {"values": [{}]}, "mark": {"type": "rule", "color": "#ff0000", "strokeDash": [2,2], "strokeWidth": 1.5}, "encoding": {"y": {"datum": 0, "type": "quantitative", "scale": {"domain": [-10, 56.6], "nice": false, "zero": false}, "axis": {"orient": "left", "values": [-10,-5,0,5,10,15,20,25,30,35,40,45,50,55], "labels": false, "tickSize": -2.8, "title": null}}}},
{"data": {"values": [{}]}, "mark": {"type": "rule", "color": "#ff0000", "strokeDash": [2,2], "strokeWidth": 1.5}, "encoding": {"x": {"datum": 10, "type": "quantitative", "scale": {"domain": [-12.05, 32.35], "nice": false, "zero": false}, "axis": {"orient": "bottom", "values": [-12,-10,-8,-6,-4,-2,0,2,4,6,8,10,12,14,16,18,20,22,24,26,28,30,32], "labels": false, "tickSize": -2.8, "title": null}}}},
{"data": {"values": [{}]}, "mark": {"type": "text", "align": "left", "baseline": "alphabetic", "font": "DejaVu Sans", "fontSize": 15.5, "color": "black"}, "encoding": {"x": {"datum": -9.83, "type": "quantitative", "scale": {"domain": [-12.05, 32.35], "nice": false, "zero": false}, "axis": {"orient": "top", "values": [-10,0,10,20,30], "labels": false, "tickSize": -4.9, "title": null}}, "y": {"datum": 48.8, "type": "quantitative", "scale": {"domain": [-10, 56.6], "nice": false, "zero": false}, "axis": {"orient": "right", "values": [0,20,40], "labels": false, "tickSize": -4.9, "title": null}}, "text": {"value": "Frequency = 343.0861 GHz, Eᵤₚ = 78.03 K"}}},
{"data": {"values": [{}]}, "mark": {"type": "point", "opacity": 0}, "encoding": {"x": {"datum": 0, "type": "quantitative", "scale": {"domain": [-12.05, 32.35], "nice": false, "zero": false}, "axis": {"orient": "top", "values": [-12,-10,-8,-6,-4,-2,0,2,4,6,8,10,12,14,16,18,20,22,24,26,28,30,32], "labels": false, "tickSize": -2.8, "title": null}}, "y": {"datum": 0, "type": "quantitative", "scale": {"domain": [-10, 56.6], "nice": false, "zero": false}, "axis": {"orient": "right", "values": [-10,-5,0,5,10,15,20,25,30,35,40,45,50,55], "labels": false, "tickSize": -2.8, "title": null}}}}
]},
{"width": 388, "height": 196, "resolve": {"axis": {"x": "independent", "y": "independent"}}, "layer": [
{"data": {"name": "r3"}, "transform": [{"filter": "datum.b >= -10 && datum.b <= 30"}], "mark": {"type": "line", "interpolate": "step", "color": "black", "strokeWidth": 1.3, "clip": true}, "encoding": {"x": {"field": "b", "type": "quantitative", "scale": {"domain": [-12.05, 32.35], "nice": false, "zero": false}, "axis": {"orient": "bottom", "values": [-10,0,10,20,30], "ticks": false, "tickSize": 0, "labelPadding": 3, "title": null}}, "y": {"field": "t", "type": "quantitative", "scale": {"domain": [-10, 56.6], "nice": false, "zero": false}, "axis": {"orient": "left", "values": [0,20,40], "ticks": false, "tickSize": 0, "labelPadding": 3, "title": null}}}},
{"data": {"name": "r3"}, "transform": [{"filter": "datum.b >= -10 && datum.b <= 30"}], "mark": {"type": "line", "interpolate": "step", "color": "#ff0000", "strokeWidth": 1.3, "clip": true}, "encoding": {"x": {"field": "b", "type": "quantitative", "scale": {"domain": [-12.05, 32.35], "nice": false, "zero": false}, "axis": {"orient": "bottom", "values": [-10,0,10,20,30], "labels": false, "tickSize": -4.9, "title": null}}, "y": {"field": "m", "type": "quantitative", "scale": {"domain": [-10, 56.6], "nice": false, "zero": false}, "axis": {"orient": "left", "values": [0,20,40], "labels": false, "tickSize": -4.9, "title": null}}}},
{"data": {"values": [{}]}, "mark": {"type": "rule", "color": "#ff0000", "strokeDash": [2,2], "strokeWidth": 1.5}, "encoding": {"y": {"datum": 0, "type": "quantitative", "scale": {"domain": [-10, 56.6], "nice": false, "zero": false}, "axis": {"orient": "left", "values": [-10,-5,0,5,10,15,20,25,30,35,40,45,50,55], "labels": false, "tickSize": -2.8, "title": null}}}},
{"data": {"values": [{}]}, "mark": {"type": "rule", "color": "#ff0000", "strokeDash": [2,2], "strokeWidth": 1.5}, "encoding": {"x": {"datum": 10, "type": "quantitative", "scale": {"domain": [-12.05, 32.35], "nice": false, "zero": false}, "axis": {"orient": "bottom", "values": [-12,-10,-8,-6,-4,-2,0,2,4,6,8,10,12,14,16,18,20,22,24,26,28,30,32], "labels": false, "tickSize": -2.8, "title": null}}}},
{"data": {"values": [{}]}, "mark": {"type": "text", "align": "left", "baseline": "alphabetic", "font": "DejaVu Sans", "fontSize": 15.5, "color": "black"}, "encoding": {"x": {"datum": -9.83, "type": "quantitative", "scale": {"domain": [-12.05, 32.35], "nice": false, "zero": false}, "axis": {"orient": "top", "values": [-10,0,10,20,30], "labels": false, "tickSize": -4.9, "title": null}}, "y": {"datum": 48.8, "type": "quantitative", "scale": {"domain": [-10, 56.6], "nice": false, "zero": false}, "axis": {"orient": "right", "values": [0,20,40], "labels": false, "tickSize": -4.9, "title": null}}, "text": {"value": "Frequency = 343.0873 GHz, Eᵤₚ = 78.032 K"}}},
{"data": {"values": [{}]}, "mark": {"type": "point", "opacity": 0}, "encoding": {"x": {"datum": 0, "type": "quantitative", "scale": {"domain": [-12.05, 32.35], "nice": false, "zero": false}, "axis": {"orient": "top", "values": [-12,-10,-8,-6,-4,-2,0,2,4,6,8,10,12,14,16,18,20,22,24,26,28,30,32], "labels": false, "tickSize": -2.8, "title": null}}, "y": {"datum": 0, "type": "quantitative", "scale": {"domain": [-10, 56.6], "nice": false, "zero": false}, "axis": {"orient": "right", "values": [-10,-5,0,5,10,15,20,25,30,35,40,45,50,55], "labels": false, "tickSize": -2.8, "title": null}}}}
]},
{"width": 388, "height": 196, "resolve": {"axis": {"x": "independent", "y": "independent"}}, "layer": [
{"data": {"name": "r3"}, "transform": [{"filter": "datum.c >= -10 && datum.c <= 30"}], "mark": {"type": "line", "interpolate": "step", "color": "black", "strokeWidth": 1.3, "clip": true}, "encoding": {"x": {"field": "c", "type": "quantitative", "scale": {"domain": [-12.05, 32.35], "nice": false, "zero": false}, "axis": {"orient": "bottom", "values": [-10,0,10,20,30], "ticks": false, "tickSize": 0, "labelPadding": 3, "title": null}}, "y": {"field": "t", "type": "quantitative", "scale": {"domain": [-10, 56.6], "nice": false, "zero": false}, "axis": {"orient": "left", "values": [0,20,40], "ticks": false, "tickSize": 0, "labelPadding": 3, "title": null}}}},
{"data": {"name": "r3"}, "transform": [{"filter": "datum.c >= -10 && datum.c <= 30"}], "mark": {"type": "line", "interpolate": "step", "color": "#ff0000", "strokeWidth": 1.3, "clip": true}, "encoding": {"x": {"field": "c", "type": "quantitative", "scale": {"domain": [-12.05, 32.35], "nice": false, "zero": false}, "axis": {"orient": "bottom", "values": [-10,0,10,20,30], "labels": false, "tickSize": -4.9, "title": null}}, "y": {"field": "m", "type": "quantitative", "scale": {"domain": [-10, 56.6], "nice": false, "zero": false}, "axis": {"orient": "left", "values": [0,20,40], "labels": false, "tickSize": -4.9, "title": null}}}},
{"data": {"values": [{}]}, "mark": {"type": "rule", "color": "#ff0000", "strokeDash": [2,2], "strokeWidth": 1.5}, "encoding": {"y": {"datum": 0, "type": "quantitative", "scale": {"domain": [-10, 56.6], "nice": false, "zero": false}, "axis": {"orient": "left", "values": [-10,-5,0,5,10,15,20,25,30,35,40,45,50,55], "labels": false, "tickSize": -2.8, "title": null}}}},
{"data": {"values": [{}]}, "mark": {"type": "rule", "color": "#ff0000", "strokeDash": [2,2], "strokeWidth": 1.5}, "encoding": {"x": {"datum": 10, "type": "quantitative", "scale": {"domain": [-12.05, 32.35], "nice": false, "zero": false}, "axis": {"orient": "bottom", "values": [-12,-10,-8,-6,-4,-2,0,2,4,6,8,10,12,14,16,18,20,22,24,26,28,30,32], "labels": false, "tickSize": -2.8, "title": null}}}},
{"data": {"values": [{}]}, "mark": {"type": "text", "align": "left", "baseline": "alphabetic", "font": "DejaVu Sans", "fontSize": 15.5, "color": "black"}, "encoding": {"x": {"datum": -9.83, "type": "quantitative", "scale": {"domain": [-12.05, 32.35], "nice": false, "zero": false}, "axis": {"orient": "top", "values": [-10,0,10,20,30], "labels": false, "tickSize": -4.9, "title": null}}, "y": {"datum": 48.8, "type": "quantitative", "scale": {"domain": [-10, 56.6], "nice": false, "zero": false}, "axis": {"orient": "right", "values": [0,20,40], "labels": false, "tickSize": -4.9, "title": null}}, "text": {"value": "Frequency = 343.0881 GHz, Eᵤₚ = 78.034 K"}}},
{"data": {"values": [{}]}, "mark": {"type": "point", "opacity": 0}, "encoding": {"x": {"datum": 0, "type": "quantitative", "scale": {"domain": [-12.05, 32.35], "nice": false, "zero": false}, "axis": {"orient": "top", "values": [-12,-10,-8,-6,-4,-2,0,2,4,6,8,10,12,14,16,18,20,22,24,26,28,30,32], "labels": false, "tickSize": -2.8, "title": null}}, "y": {"datum": 0, "type": "quantitative", "scale": {"domain": [-10, 56.6], "nice": false, "zero": false}, "axis": {"orient": "right", "values": [-10,-5,0,5,10,15,20,25,30,35,40,45,50,55], "labels": false, "tickSize": -2.8, "title": null}}}}
]}
]
}
],
"config": {
"font": "DejaVu Sans",
"view": {"stroke": "black", "strokeWidth": 1},
"axis": {"grid": false, "domain": false, "labelFont": "DejaVu Sans", "labelFontSize": 14, "labelColor": "black", "tickColor": "black", "tickWidth": 1, "labelFlush": false, "labelOverlap": false},
"title": {"font": "DejaVu Sans", "fontSize": 23.5, "fontWeight": "normal", "color": "black"}
}
}
